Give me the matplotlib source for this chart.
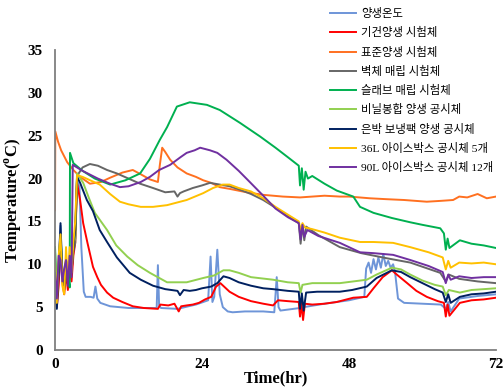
import matplotlib
matplotlib.use("Agg")
import matplotlib.pyplot as plt

plt.rcParams["font.family"] = ["Liberation Serif", "Noto Sans CJK KR", "DejaVu Sans"]
plt.rcParams["mathtext.fontset"] = "custom"
plt.rcParams["mathtext.rm"] = "Liberation Serif"
plt.rcParams["mathtext.bf"] = "Liberation Serif:bold"

# ---- data (time in hr, temperature in degC) ----
T0 = [0, 0.3, 0.6, 0.9, 1.2, 1.5, 1.8, 2.1, 2.4, 2.7, 3.0, 3.3]

blue_t = T0 + [3.6, 4.0, 4.3, 4.7, 5.0, 5.8, 6.3, 6.6, 6.9, 7.4, 9, 12, 16.6, 16.8, 17.0, 17.3, 20, 23,
               25.0, 25.4, 25.7, 26.0, 26.5, 26.9, 27.4, 28.2, 29, 31, 34, 35.8, 36.2, 36.5, 36.8, 40,
               40.3, 40.6, 44, 48, 50.5, 50.8, 51.2, 51.6, 52.0, 52.4, 52.8, 53.2, 53.6, 54.0, 54.4,
               54.8, 55.2, 55.5, 56.0, 57, 60, 63, 63.8, 64.2, 64.6, 66, 69, 72]
blue_v = [8.5, 5.5, 10.5, 14.5, 8.5, 7.0, 10.0, 8.0, 11.0, 9.0, 12.0, 13.0] + \
         [19.8, 19.0, 12.0, 6.8, 6.2, 6.2, 6.1, 7.4, 6.0, 5.5, 5.1, 4.9, 4.9, 9.9, 5.2, 4.9, 4.8, 5.3,
          5.8, 10.9, 5.6, 6.2, 11.7, 6.5, 5.0, 4.5, 4.4, 4.5, 4.5, 4.4, 8.5, 5.0, 4.6, 4.9,
          4.5, 5.0, 5.4, 5.8, 6.2, 9.5, 10.2, 9.0, 10.6, 9.4, 10.8, 9.6, 11.2, 9.8, 10.4,
          9.6, 10.0, 9.2, 6.0, 5.5, 5.4, 5.3, 4.8, 5.6, 4.5, 6.0, 6.3, 6.5]

red_t = T0 + [3.6, 4.1, 4.6, 5.3, 6.2, 6.9, 7.5, 8.5, 9.5, 11, 12.7, 14.5, 16.8, 17.2, 18.5, 19.5, 20.2,
              20.6, 21.5, 22.5, 23.5, 24.5, 25.5, 26.3, 27.0, 27.6, 28.5, 30, 32, 34, 35.6, 36.4, 38,
              39.8, 40.0, 40.2, 40.5, 40.8, 42, 44, 46, 48.7, 50.9, 52, 53.5, 55, 55.8, 57.5, 59,
              60.7, 62.5, 63.5, 63.8, 64.1, 64.4, 66.1, 68, 70, 72]
red_v = [6.0, 5.0, 7.5, 12.5, 8.0, 6.5, 9.0, 7.0, 9.5, 8.0, 11.0, 12.5] + \
        [19.5, 17.5, 14.8, 12.5, 9.7, 8.5, 7.6, 6.7, 6.1, 5.6, 5.1, 4.9, 4.8, 5.3, 5.2, 5.4, 4.5,
         5.1, 5.2, 5.3, 5.5, 5.9, 6.2, 7.4, 7.8, 7.4, 6.8, 6.2, 5.7, 5.4, 5.2, 5.8, 5.7,
         5.6, 3.9, 5.5, 3.5, 5.4, 5.3, 5.4, 5.6, 6.1, 6.2, 7.2, 8.5, 9.3, 8.8, 7.8, 6.9,
         6.2, 5.7, 5.5, 3.9, 5.3, 4.0, 5.5, 5.8, 5.9, 6.1]

orange_t = [0, 0.05, 0.5, 1, 2, 3, 4.1, 5.7, 7.5, 9, 11, 12.7, 14, 15.5, 16.8, 17.1, 17.5, 18, 18.8,
            20, 21.5, 23, 24.2, 25.5, 26.9, 28.5, 31.3, 34, 37.2, 40, 42, 44, 46.5, 48, 51.4, 54,
            57, 60.7, 63, 65, 66, 67.3, 69, 70.5, 72]
orange_v = [16.3, 25.5, 24.3, 23.3, 21.9, 21.0, 20.2, 19.4, 19.6, 20.1, 20.7, 21.0, 20.5, 19.9, 19.6,
            21.5, 23.6, 23.1, 22.2, 21.3, 20.6, 20.2, 19.8, 19.5, 19.0, 18.8, 18.4, 18.1, 17.9, 17.8,
            17.9, 18.0, 17.9, 17.9, 17.7, 17.6, 17.5, 17.3, 17.4, 17.5, 17.9, 17.8, 18.2, 17.7, 17.9]

gray_t = T0 + [3.6, 4.5, 5.7, 7, 8.5, 10.1, 12, 13.9, 16, 18, 19.5, 20.0, 20.4, 21, 22.5, 24, 25.3,
               26.9, 28.5, 30.2, 32, 34, 36, 38, 39.8, 40.1, 40.4, 40.7, 41, 43, 46.5, 50, 54.2, 58,
               62.9, 63.8, 64.3, 66, 69, 72]
gray_v = [9.5, 6.5, 9.0, 12.0, 9.0, 8.0, 9.5, 9.0, 10.0, 9.5, 11.5, 12.5] + \
         [20.3, 21.3, 21.7, 21.5, 21.0, 20.6, 20.0, 19.4, 18.9, 18.4, 18.5, 17.9, 18.3, 18.5, 18.9,
          19.2, 19.5, 19.3, 19.1, 18.7, 18.2, 17.5, 16.6, 15.6, 14.8, 12.4, 14.6, 12.8, 14.4, 13.4,
          12.0, 11.3, 10.7, 10.2, 9.0, 8.0, 8.8, 8.3, 8.0, 7.8]

green_t = [0, 0.3, 0.6, 0.9, 1.2, 1.5, 1.8, 2.1, 2.4, 2.45, 3.0, 4.5, 6.5, 9, 11.5, 13.9, 15.5, 17.1,
           18.3, 19.9, 22, 24.8, 26.9, 30.2, 33.5, 36, 38, 39.8, 40.0, 40.3, 40.6, 40.9, 41.3,
           42, 44, 46, 48.7, 49.8, 52, 55, 58, 60, 62.9, 63.5, 63.8, 64.1, 64.4, 66.1, 68, 70, 72]
green_v = [12.0, 7.0, 10.0, 13.5, 9.0, 8.0, 10.5, 9.0, 7.3, 23.0, 21.8, 20.9, 20.0, 19.3, 19.8, 20.6,
           22.3, 24.5, 26.0, 28.4, 28.9, 28.6, 28.0, 26.5, 24.9, 23.6, 22.5, 21.5, 19.2, 21.2, 18.7,
           20.8, 20.0, 20.3, 19.4, 18.6, 17.9, 16.7, 16.0, 15.4, 14.9, 14.6, 14.2, 13.6, 11.7,
           13.0, 11.9, 12.8, 12.4, 12.2, 11.9]

lgreen_t = T0 + [3.6, 4.6, 5.5, 6.5, 7, 8.5, 10, 11.8, 13.5, 15.5, 18.3, 21.5, 24.2, 26, 27.5, 28.5, 30,
                 32, 35.6, 38, 39.8, 40.1, 40.4, 42, 46.5, 50.9, 52.5, 55, 56.5, 58, 60, 62, 63.3,
                 63.8, 64.3, 66.1, 68, 70, 72]
lgreen_v = [11.5, 6.0, 9.5, 13.0, 9.0, 7.5, 10.0, 8.5, 11.0, 9.5, 12.5, 13.0] + \
           [20.6, 19.5, 17.8, 16.0, 15.5, 14.0, 12.2, 10.9, 9.9, 9.0, 7.9, 7.9, 8.4, 8.7, 9.3, 9.3,
            9.0, 8.5, 8.2, 7.9, 7.8, 6.7, 7.6, 7.8, 7.8, 8.2, 8.8, 9.6, 9.4, 8.8, 8.1, 7.6, 7.4,
            6.4, 7.0, 6.7, 7.0, 7.1, 7.2]

navy_t = T0 + [3.6, 4.1, 5.2, 6.2, 7.3, 8.5, 10.1, 12.2, 14, 16, 18, 20, 20.4, 21, 22, 23, 24, 25.5,
               26.5, 27.5, 28.5, 30, 32, 34, 35.6, 38, 39.8, 40.0, 40.3, 40.6, 41, 42.8, 46.5, 48.5,
               50.9, 52.5, 55, 56.5, 58, 60, 62, 63.3, 63.8, 64.2, 64.6, 66.1, 68, 70, 72]
navy_v = [7.0, 4.8, 9.0, 14.8, 8.5, 7.0, 10.5, 8.0, 10.5, 9.0, 12.0, 14.0] + \
         [20.2, 19.5, 17.5, 16.2, 14.0, 12.6, 10.8, 9.0, 8.2, 7.5, 7.1, 6.9, 6.4, 7.0, 6.9, 7.0,
          7.2, 7.4, 7.8, 8.6, 8.4, 7.9, 7.5, 7.2, 7.1, 6.9, 6.8, 4.8, 6.6, 4.6, 6.7, 6.8, 6.8,
          7.0, 7.4, 8.4, 9.3, 9.1, 8.5, 7.8, 7.1, 6.7, 5.6, 6.5, 5.5, 6.2, 6.5, 6.6, 6.8]

yellow_t = T0 + [3.6, 4.5, 7.3, 9, 10.6, 12, 14, 16, 18.3, 21.5, 24.2, 25.8, 27.4, 28.5, 30, 32, 34,
                 36, 38, 39.8, 40.1, 40.4, 40.8, 42, 44, 46.5, 49.8, 52, 55.2, 58, 61, 63.3, 63.8,
                 64.2, 64.6, 66, 68, 70, 72]
yellow_v = [10.0, 5.5, 11.0, 13.5, 7.5, 6.5, 12.0, 8.0, 12.0, 9.0, 12.5, 15.0] + \
           [20.4, 20.2, 19.3, 18.2, 17.3, 17.0, 16.7, 16.7, 16.9, 17.5, 18.3, 18.9, 19.3, 19.3,
            18.9, 18.5, 17.7, 16.7, 15.8, 15.0, 14.0, 14.8, 14.3, 14.1, 13.7, 13.1, 12.6, 12.6,
            12.5, 12.0, 11.4, 10.8, 9.4, 10.4, 9.6, 10.2, 10.1, 10.2, 10.0]

purple_t = [0, 0.3, 0.6, 0.9, 1.2, 1.5, 1.8, 2.1, 2.4, 2.7, 2.9, 4.5, 7, 9, 10.6, 12, 14, 15.5, 17,
            18.8, 20.5, 21.5, 22.8, 23.7, 25.3, 26.5, 28, 30, 31.8, 34, 36, 38, 39.8, 40.1, 40.4,
            40.7, 41.2, 43, 46.5, 49.8, 52, 55.2, 58, 61, 63.3, 63.8, 64.2, 64.6, 66, 68, 70, 72]
purple_v = [9.0, 6.0, 11.0, 10.5, 8.0, 9.5, 10.5, 7.5, 11.0, 8.5, 21.6, 20.9, 20.0, 19.4, 19.0, 19.1,
            19.6, 20.2, 21.0, 21.6, 22.5, 23.0, 23.3, 23.6, 23.3, 23.0, 22.2, 20.9, 19.6, 18.0,
            16.5, 15.5, 14.8, 12.9, 14.6, 13.2, 14.0, 13.3, 12.5, 11.4, 11.3, 11.1, 10.5, 9.8,
            9.1, 7.8, 8.8, 8.2, 8.6, 8.4, 8.5, 8.5]

labels = ["양생온도", "기건양생 시험체", "표준양생 시험체", "벽체 매립 시험체", "슬래브 매립 시험체",
          "비닐봉합 양생 공시체", "은박 보냉팩 양생 공시체",
          "36L 아이스박스 공시체 5개", "90L 아이스박스 공시체 12개"]
colors = ["#6E95D8", "#FF0000", "#FF7020", "#666666", "#00B050", "#92D050", "#002060", "#FFC000", "#7030A0"]
series = [(blue_t, blue_v), (red_t, red_v), (orange_t, orange_v), (gray_t, gray_v), (green_t, green_v),
          (lgreen_t, lgreen_v), (navy_t, navy_v), (yellow_t, yellow_v), (purple_t, purple_v)]

fig = plt.figure(figsize=(5.04, 3.91), dpi=100)
ax = fig.add_axes([55/504, 1-350/391, 441/504, 300/391])
for (t, v), c, lab in zip(series, colors, labels):
    ax.plot(t, v, color=c, lw=1.4, label=lab)

ax.set_xlim(0, 72); ax.set_ylim(0, 35)
ax.set_xticks([0, 24, 48, 72]); ax.set_yticks(range(0, 36, 5))
ax.tick_params(axis="y", length=0, labelsize=11, pad=9)
ax.tick_params(axis="x", length=0, labelsize=11, pad=6)
for lb in ax.get_xticklabels() + ax.get_yticklabels():
    lb.set_fontweight("bold")
for s in ["top", "right"]:
    ax.spines[s].set_visible(False)
for s in ["left", "bottom"]:
    ax.spines[s].set_color("#7F7F7F"); ax.spines[s].set_linewidth(1.3)
ax.set_xlabel("Time(hr)", fontsize=12, fontweight="bold", labelpad=-1)
ax.set_ylabel(r"Temperature($^{\mathbf{o}}$C)", fontsize=12, fontweight="bold", labelpad=2)

fig.legend(loc="upper left", bbox_to_anchor=(330/504, 1-8/391), frameon=False, fontsize=8.2,
           handlelength=2.3, handletextpad=0.4, labelspacing=0.72, borderpad=0, borderaxespad=0)

fig.savefig("out.png", dpi=100)
